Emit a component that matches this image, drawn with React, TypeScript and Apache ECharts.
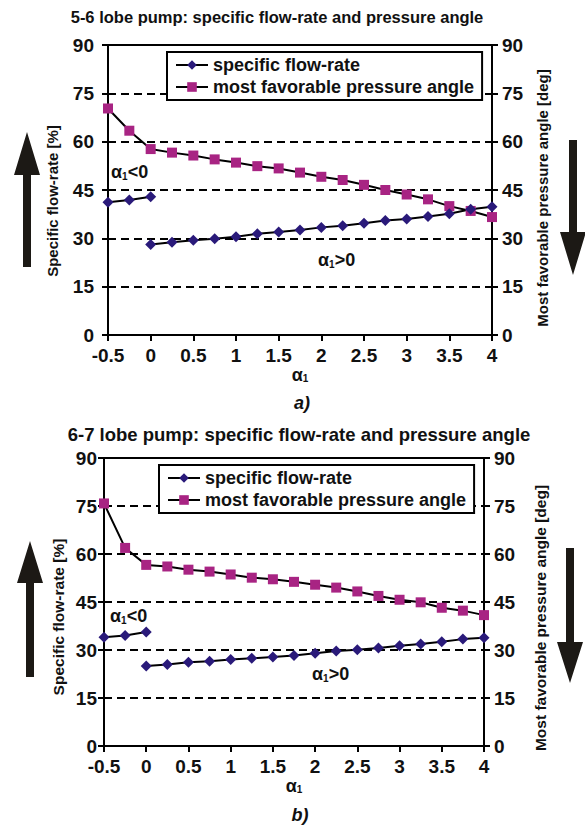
import React, { useEffect, useRef } from "react";
import * as echarts from "echarts";

// ---- data ----
const xAll = [-0.5, -0.25, 0, 0.25, 0.5, 0.75, 1, 1.25, 1.5, 1.75, 2, 2.25, 2.5, 2.75, 3, 3.25, 3.5, 3.75, 4];
const xNeg = [-0.5, -0.25, 0];
const xPos = [0, 0.25, 0.5, 0.75, 1, 1.25, 1.5, 1.75, 2, 2.25, 2.5, 2.75, 3, 3.25, 3.5, 3.75, 4];

// chart a) 5-6 lobe pump
const flowNegA = [41.2, 41.9, 42.9];
const flowPosA = [28.1, 28.8, 29.4, 29.9, 30.5, 31.4, 32.0, 32.6, 33.4, 33.9, 34.7, 35.5, 36.0, 36.8, 37.6, 39.0, 39.8];
const angleA = [70.3, 63.4, 57.7, 56.6, 55.7, 54.5, 53.5, 52.4, 51.7, 50.4, 49.1, 48.1, 46.6, 45.0, 43.6, 42.1, 40.0, 38.5, 36.6];

// chart b) 6-7 lobe pump
const flowNegB = [34.0, 34.5, 35.6];
const flowPosB = [25.0, 25.5, 26.2, 26.5, 27.0, 27.4, 27.8, 28.3, 29.0, 29.7, 30.1, 30.6, 31.3, 31.9, 32.6, 33.4, 33.8];
const angleB = [75.8, 61.9, 56.6, 56.1, 55.1, 54.5, 53.6, 52.6, 52.1, 51.3, 50.4, 49.5, 48.3, 46.9, 45.7, 44.9, 43.2, 42.3, 40.9];

const titles = [
  "5-6 lobe pump: specific flow-rate and pressure angle",
  "6-7 lobe pump: specific flow-rate and pressure angle",
];
const seriesNames = ["specific flow-rate", "most favorable pressure angle"];
const leftName = "Specific flow-rate [%]";
const rightName = "Most favorable pressure angle [deg]";

const FONT = 'Arial, "Liberation Sans", Helvetica, sans-serif';
const DIAMOND = "#2a1a7a";
const SQUARE = "#a82483";

const zip = (xs: number[], ys: number[]) => xs.map((x, i) => [x, ys[i]]);

export default function App() {
  const ref = useRef<HTMLDivElement>(null);

  useEffect(() => {
    if (!ref.current) return;
    const chart = echarts.init(ref.current, undefined, { renderer: "svg" });

    const grids = [
      { left: 108, top: 45, width: 384, height: 290, yLblL: 14, yLblR: 10 },
      { left: 104, top: 458, width: 380, height: 288, yLblL: 7, yLblR: 10 },
    ];
    const legendPos = [
      { left: 167, top: 52 },
      { left: 159, top: 465 },
    ];
    const dataSets = [
      { neg: flowNegA, pos: flowPosA, ang: angleA },
      { neg: flowNegB, pos: flowPosB, ang: angleB },
    ];

    const axisLine = { show: true, onZero: false, lineStyle: { color: "#000", width: 2 } };
    const axisTick = { show: true, inside: false, length: 6, lineStyle: { color: "#000", width: 2 } };
    const lblStyle = { color: "#111", fontFamily: FONT, fontWeight: "bold" as const, fontSize: 19 };

    const grid: any[] = [];
    const xAxis: any[] = [];
    const yAxis: any[] = [];
    const series: any[] = [];
    const legend: any[] = [];

    grids.forEach((g, i) => {
      grid.push({
        left: g.left, top: g.top, width: g.width, height: g.height,
        show: true, borderColor: "#000", borderWidth: 2, backgroundColor: "transparent",
      });
      xAxis.push({
        type: "value", gridIndex: i, min: -0.5, max: 4, interval: 0.5,
        axisLine, axisTick,
        axisLabel: { ...lblStyle, margin: 11 },
        splitLine: { show: false },
        name: "{a|α}{s|1}", nameLocation: "middle", nameGap: i === 0 ? 28 : 29,
        nameTextStyle: {
          rich: {
            a: { fontFamily: FONT, fontWeight: "bold", fontSize: 18, color: "#111" },
            s: { fontFamily: FONT, fontWeight: "bold", fontSize: 10, color: "#111", verticalAlign: "bottom" },
          },
        },
      });
      yAxis.push({
        type: "value", gridIndex: i, position: "left", min: 0, max: 90, interval: 15,
        axisLine, axisTick,
        axisLabel: { ...lblStyle, margin: g.yLblL },
        splitLine: { show: true, lineStyle: { color: "#000", width: 2, type: [8, 5] } },
      });
      yAxis.push({
        type: "value", gridIndex: i, position: "right", min: 0, max: 90, interval: 15,
        axisLine, axisTick,
        axisLabel: { ...lblStyle, margin: g.yLblR },
        splitLine: { show: false },
      });
      const d = dataSets[i];
      const flowCommon = {
        type: "line", name: seriesNames[0], xAxisIndex: i, yAxisIndex: 2 * i,
        symbol: "diamond", symbolSize: 11,
        lineStyle: { color: "#000", width: 2 },
        itemStyle: { color: DIAMOND },
      };
      series.push({ ...flowCommon, data: zip(xNeg, d.neg) });
      series.push({
        type: "line", name: seriesNames[1], xAxisIndex: i, yAxisIndex: 2 * i + 1,
        symbol: "rect", symbolSize: 10,
        lineStyle: { color: "#000", width: 2 },
        itemStyle: { color: SQUARE },
        data: zip(xAll, d.ang),
      });
      series.push({ ...flowCommon, data: zip(xPos, d.pos) });
      legend.push({
        left: legendPos[i].left, top: legendPos[i].top,
        orient: "vertical",
        data: seriesNames,
        backgroundColor: "#fff", borderColor: "#000", borderWidth: 2, borderRadius: 0,
        padding: [4, 8, 4, 8], itemGap: 4, itemWidth: 32, itemHeight: 12,
        textStyle: { fontFamily: FONT, fontSize: 18, color: "#111", fontWeight: "bold" },
        selectedMode: false,
      });
    });

    const annot = (text: string, x: number, y: number) => ({
      type: "text", x, y, z: 100,
      style: {
        text, align: "left", verticalAlign: "middle",
        rich: {
          a: { fontFamily: FONT, fontWeight: "bold", fontSize: 18, fill: "#111" },
          s: { fontFamily: FONT, fontWeight: "bold", fontSize: 10, fill: "#111", verticalAlign: "bottom" },
        },
      },
    });
    const vText = (text: string, x: number, y: number, size: number) => ({
      type: "text", x, y, rotation: Math.PI / 2,
      style: { text, align: "center", verticalAlign: "middle", fontFamily: FONT, fontWeight: "bold", fontSize: size, fill: "#111" },
    });
    const hText = (text: string, x: number, y: number, size: number, italic = false) => ({
      type: "text", x, y,
      style: {
        text, align: "center", verticalAlign: "middle", fontFamily: FONT, fontWeight: "bold",
        fontStyle: italic ? "italic" : "normal", fontSize: size, fill: "#111",
      },
    });
    const arrowUp = (cx: number, tip: number, base: number, bottom: number) => ({
      type: "polygon",
      shape: { points: [[cx - 4, bottom], [cx + 4, bottom], [cx + 4, base], [cx + 13, base], [cx, tip], [cx - 13, base], [cx - 4, base]] },
      style: { fill: "#1c1915" },
    });
    const arrowDown = (cx: number, top: number, base: number, tip: number) => ({
      type: "polygon",
      shape: { points: [[cx - 4, top], [cx + 4, top], [cx + 4, base], [cx + 13, base], [cx, tip], [cx - 13, base], [cx - 4, base]] },
      style: { fill: "#1c1915" },
    });

    const graphic: any[] = [
      hText(titles[0], 277, 17, 16.5),
      hText(titles[1], 299, 434, 18.5),
      hText("a)", 302, 403, 18, true),
      hText("b)", 300, 815, 18, true),
      vText(leftName, 52, 201, 15),
      vText(rightName, 542, 198, 15),
      vText(leftName, 58, 617, 15.5),
      vText(rightName, 540, 618, 15.5),
      annot("{a|α}{s|1}{a|<0}", 111, 172),
      annot("{a|α}{s|1}{a|>0}", 318, 260),
      annot("{a|α}{s|1}{a|<0}", 110, 616),
      annot("{a|α}{s|1}{a|>0}", 312, 674),
      arrowUp(27, 132, 175, 267),
      arrowDown(573, 140, 232, 275),
      arrowUp(30, 541, 583, 677),
      arrowDown(570, 548, 642, 683),
    ];

    chart.setOption({
      animation: false,
      backgroundColor: "#fff",
      grid, xAxis, yAxis, series, legend, graphic,
    });
    return () => chart.dispose();
  }, []);

  return <div ref={ref} style={{ position: "absolute", left: 0, top: 0, width: 585, height: 827 }} />;
}
